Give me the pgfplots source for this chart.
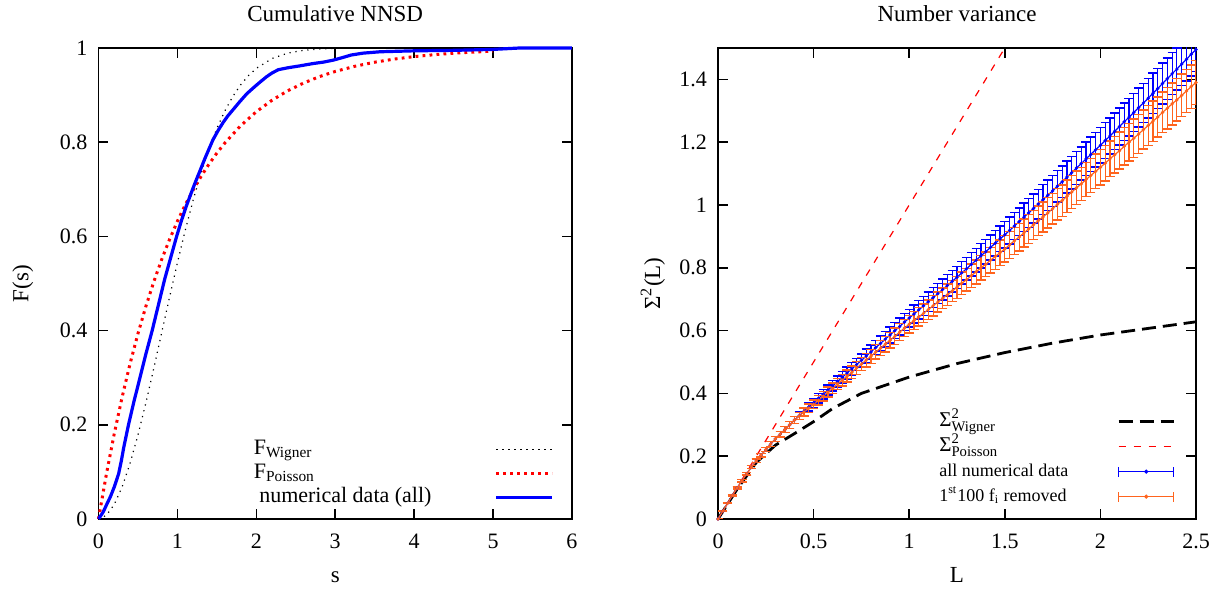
\documentclass[border=0pt]{standalone}
\usepackage{fontspec}
\setmainfont{Liberation Serif}
\usepackage{amsmath}
\usepackage{pgfplots}
\pgfplotsset{compat=1.18}
\usepackage{pgfplotstable}

\definecolor{myorange}{RGB}{255,100,30}

\pgfplotstableread{
L b o e
0 0 0 0
0.025 0.025 0.025 0.001
0.05 0.05 0.05 0.001
0.075 0.075 0.075 0.002
0.1 0.099 0.099 0.003
0.125 0.122 0.122 0.004
0.15 0.144 0.144 0.004
0.175 0.165 0.165 0.005
0.2 0.185 0.185 0.006
0.225 0.203 0.203 0.006
0.25 0.221 0.221 0.007
0.275 0.238 0.238 0.008
0.3 0.255 0.255 0.008
0.325 0.270 0.270 0.009
0.35 0.285 0.285 0.010
0.375 0.300 0.300 0.011
0.4 0.315 0.315 0.011
0.425 0.329 0.328 0.012
0.45 0.343 0.341 0.013
0.475 0.357 0.353 0.013
0.5 0.370 0.365 0.014
0.525 0.384 0.378 0.015
0.55 0.397 0.391 0.015
0.575 0.411 0.404 0.016
0.6 0.424 0.416 0.017
0.625 0.438 0.430 0.018
0.65 0.451 0.442 0.018
0.675 0.465 0.455 0.019
0.7 0.478 0.467 0.020
0.725 0.492 0.481 0.020
0.75 0.505 0.493 0.021
0.775 0.519 0.506 0.022
0.8 0.532 0.518 0.022
0.825 0.546 0.532 0.023
0.85 0.559 0.544 0.024
0.875 0.573 0.557 0.025
0.9 0.586 0.569 0.025
0.925 0.600 0.582 0.026
0.95 0.613 0.595 0.027
0.975 0.627 0.608 0.027
1.0 0.640 0.620 0.028
1.025 0.653 0.632 0.029
1.05 0.666 0.644 0.029
1.075 0.679 0.655 0.030
1.1 0.692 0.667 0.031
1.125 0.705 0.679 0.032
1.15 0.718 0.691 0.032
1.175 0.731 0.703 0.033
1.2 0.744 0.714 0.034
1.225 0.757 0.726 0.034
1.25 0.770 0.738 0.035
1.275 0.784 0.751 0.036
1.3 0.797 0.762 0.036
1.325 0.811 0.775 0.037
1.35 0.824 0.787 0.038
1.375 0.838 0.800 0.039
1.4 0.851 0.811 0.039
1.425 0.865 0.824 0.040
1.45 0.878 0.836 0.041
1.475 0.892 0.848 0.041
1.5 0.905 0.860 0.042
1.525 0.919 0.873 0.043
1.55 0.933 0.886 0.043
1.575 0.947 0.898 0.044
1.6 0.961 0.911 0.045
1.625 0.975 0.924 0.046
1.65 0.989 0.937 0.046
1.675 1.003 0.950 0.047
1.7 1.017 0.962 0.048
1.725 1.031 0.975 0.048
1.75 1.045 0.988 0.049
1.775 1.060 1.002 0.050
1.8 1.074 1.014 0.050
1.825 1.089 1.028 0.051
1.85 1.103 1.041 0.052
1.875 1.118 1.055 0.053
1.9 1.132 1.067 0.053
1.925 1.147 1.081 0.054
1.95 1.161 1.094 0.055
1.975 1.176 1.107 0.055
2.0 1.190 1.120 0.056
2.025 1.205 1.133 0.057
2.05 1.220 1.147 0.057
2.075 1.235 1.160 0.058
2.1 1.250 1.173 0.059
2.125 1.265 1.187 0.060
2.15 1.280 1.200 0.060
2.175 1.295 1.213 0.061
2.2 1.310 1.226 0.062
2.225 1.325 1.240 0.062
2.25 1.340 1.253 0.063
2.275 1.356 1.267 0.064
2.3 1.371 1.280 0.064
2.325 1.387 1.295 0.065
2.35 1.402 1.308 0.066
2.375 1.418 1.322 0.067
2.4 1.433 1.335 0.067
2.425 1.449 1.349 0.068
2.45 1.464 1.363 0.069
2.475 1.480 1.377 0.069
2.5 1.495 1.390 0.070
}\nvdata

\pgfplotsset{
  common/.style={
    scale only axis, height=235.5pt, at={(0,0)}, anchor=south west,
    tick align=inside, major tick length=5pt,
    axis line style={line width=0.8pt}, tick style={line width=0.8pt, black},
    /pgf/number format/assume math mode=true,
    tick label style={font=\fontsize{11}{13}\selectfont},
    label style={font=\fontsize{11.5}{13}\selectfont},
    title style={font=\fontsize{11.5}{13}\selectfont, at={(0.5,1.03)}, anchor=base},
    xticklabel style={yshift=-4pt},
    yticklabel style={xshift=-2pt},
    xlabel style={at={(0.5,-0.134)}, anchor=base},
    legend plot pos=right, legend cell align=left,
  }
}

\begin{document}
\begin{tikzpicture}
\useasboundingbox (-49.25pt,-39pt) rectangle (562.75pt,259.5pt);

\begin{axis}[common, width=236.75pt,
  xmin=0, xmax=6, ymin=0, ymax=1,
  xtick={0,1,2,3,4,5,6}, ytick={0,0.2,0.4,0.6,0.8,1},
  title={Cumulative NNSD}, xlabel={s}, ylabel={F(s)},
  ylabel style={at={(-0.148,0.5)}, anchor=base},
  clip=false,
  legend style={at={(0.325,0.02)}, anchor=south west, draw=none, fill=none,
    inner sep=0pt, row sep=0pt, font=\fontsize{11}{13}\selectfont,
    nodes={inner sep=0.5pt, text height=8pt, text depth=3pt}},
  legend image code/.code={\draw[#1] (0pt,0pt) -- (28pt,0pt);},
]
\addplot[black, line width=0.6pt, dash pattern=on 0.6pt off 2.4pt] coordinates {
(0,0) (0.1,0.0078) (0.2,0.0309) (0.3,0.0683) (0.4,0.1181) (0.5,0.1783) (0.6,0.2463)
(0.7,0.3194) (0.8,0.3951) (0.9,0.4707) (1.0,0.5441) (1.1,0.6134) (1.2,0.6773)
(1.3,0.7348) (1.4,0.7855) (1.5,0.8292) (1.6,0.8661) (1.7,0.8967) (1.8,0.9215)
(1.9,0.9413) (2.0,0.9568) (2.2,0.9777) (2.4,0.9892) (2.6,0.9951) (2.8,0.9979) (3.0,0.9991)};
\addlegendentry{\makebox[120pt][l]{F$_{\text{Wigner}}$}}
\addplot[red, line width=1.5pt, dash pattern=on 1.4pt off 2.1pt] coordinates {
(0,0) (0.1,0.0952) (0.2,0.1813) (0.3,0.2592) (0.4,0.3297) (0.5,0.3935) (0.6,0.4512)
(0.7,0.5034) (0.8,0.5507) (0.9,0.5934) (1.0,0.6321) (1.1,0.6671) (1.2,0.6988)
(1.3,0.7275) (1.4,0.7534) (1.5,0.7769) (1.6,0.7981) (1.8,0.8347) (2.0,0.8647)
(2.2,0.8892) (2.4,0.9093) (2.6,0.9257) (2.8,0.9392) (3.0,0.9502) (3.25,0.9612)
(3.5,0.9698) (3.75,0.9765) (4.0,0.9817) (4.25,0.9857) (4.5,0.9889) (4.75,0.9913) (5.0,0.9933)};
\addlegendentry{\makebox[120pt][l]{F$_{\text{Poisson}}$}}
\addplot[blue, line width=1.6pt] coordinates {
(0,0) (0.02,0.005) (0.06,0.015) (0.107,0.032) (0.15,0.047) (0.2,0.068) (0.255,0.096)
(0.29,0.124) (0.32,0.152) (0.38,0.2) (0.45,0.25) (0.53,0.303) (0.6,0.35) (0.68,0.4)
(0.76,0.455) (0.84,0.51) (0.92,0.558) (0.99,0.60) (1.05,0.633) (1.11,0.663) (1.17,0.69)
(1.22,0.712) (1.29,0.741) (1.35,0.766) (1.45,0.805) (1.52,0.826) (1.58,0.842) (1.64,0.856)
(1.72,0.872) (1.79,0.886) (1.88,0.903) (1.98,0.918) (2.05,0.928) (2.13,0.939) (2.2,0.947)
(2.28,0.954) (2.4,0.958) (2.55,0.962) (2.72,0.967) (2.85,0.970) (2.97,0.974) (3.1,0.980)
(3.2,0.985) (3.35,0.989) (3.57,0.992) (4.0,0.994) (4.5,0.995) (5.0,0.997) (5.34,1.0) (6.0,1.0)};
\addlegendentry{\makebox[120pt][l]{\ numerical data (all)}}
\end{axis}

\begin{axis}[common, at={(309.75pt,0)}, width=239pt,
  xmin=0, xmax=2.5, ymin=0, ymax=1.5,
  xtick={0,0.5,1,1.5,2,2.5}, ytick={0,0.2,0.4,0.6,0.8,1,1.2,1.4},
  title={Number variance}, xlabel={L}, ylabel={Σ$^{\text{2}}$(L)},
  ylabel style={at={(-0.121,0.5)}, anchor=base},
  legend style={at={(0.46,0.02)}, anchor=south west, draw=none, fill=none,
    inner sep=0pt, row sep=0pt, font=\fontsize{9}{11}\selectfont,
    nodes={inner sep=0.5pt, text height=8pt, text depth=3.5pt}},
]
\addplot[black, line width=1.4pt, dash pattern=on 7pt off 3.5pt,
  legend image code/.code={\draw[black, line width=1.4pt, dash pattern=on 7pt off 3.5pt] (0pt,0pt) -- (27.5pt,0pt);}] coordinates {
(0,0) (0.1,0.095) (0.2,0.18) (0.3,0.235) (0.4,0.272) (0.5,0.31) (0.6,0.352) (0.75,0.40)
(1.0,0.452) (1.25,0.495) (1.5,0.53) (1.75,0.56) (2.0,0.586) (2.25,0.607) (2.5,0.628)};
\addlegendentry{\makebox[88.5pt][l]{\fontsize{10.5}{12}\selectfont Σ$^{\text{2}}_{\text{Wigner}}$}}
\addplot[red, line width=0.6pt, dash pattern=on 3.5pt off 4pt,
  legend image code/.code={\draw[red, line width=0.6pt, dash pattern=on 3.5pt off 4pt] (0pt,0pt) -- (27.5pt,0pt);}] coordinates {
(0,0) (1.5,1.5)};
\addlegendentry{\makebox[88.5pt][l]{\fontsize{10.5}{12}\selectfont Σ$^{\text{2}}_{\text{Poisson}}$}}
\addplot[blue, line width=0.6pt, mark=*, mark size=0.5pt,
  legend image code/.code={\draw[blue, line width=0.6pt] (0pt,0pt) -- (27.5pt,0pt);
    \draw[blue, line width=0.6pt] (0pt,-2.5pt) -- (0pt,2.5pt);
    \draw[blue, line width=0.6pt] (27.5pt,-2.5pt) -- (27.5pt,2.5pt);
    \fill[blue] (13.75pt,0pt) circle (0.7pt);},
  error bars/.cd, y dir=both, y explicit,
  error bar style={line width=0.6pt},
  error mark options={rotate=90, mark size=2.3pt, line width=0.7pt, blue}]
  table[x=L, y=b, y error=e] {\nvdata};
\addlegendentry{\makebox[88.5pt][l]{all numerical data}}
\addplot[myorange, line width=0.6pt, mark=*, mark size=0.5pt,
  legend image code/.code={\draw[myorange, line width=0.6pt] (0pt,0pt) -- (27.5pt,0pt);
    \draw[myorange, line width=0.6pt] (0pt,-2.5pt) -- (0pt,2.5pt);
    \draw[myorange, line width=0.6pt] (27.5pt,-2.5pt) -- (27.5pt,2.5pt);
    \fill[myorange] (13.75pt,0pt) circle (0.7pt);},
  error bars/.cd, y dir=both, y explicit,
  error bar style={line width=0.6pt},
  error mark options={rotate=90, mark size=2.3pt, line width=0.7pt, myorange}]
  table[x=L, y=o, y error=e] {\nvdata};
\addlegendentry{\makebox[88.5pt][l]{1\textsuperscript{st}100 f\textsubscript{i} removed}}
\end{axis}
\end{tikzpicture}
\end{document}
